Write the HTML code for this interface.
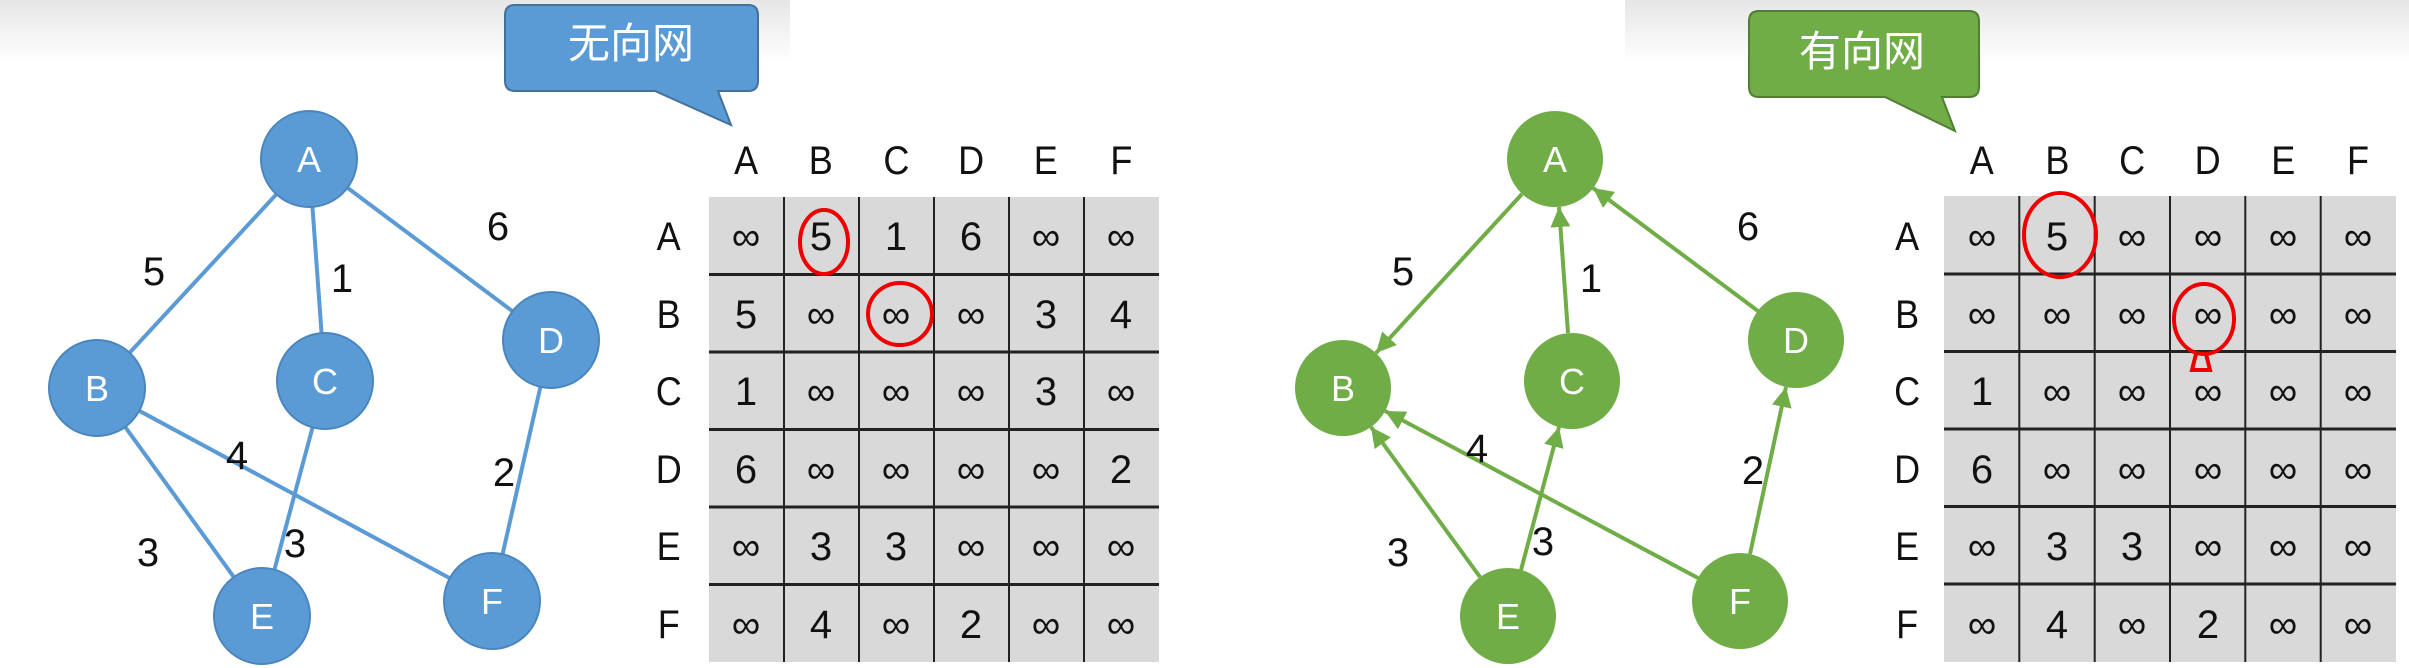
<!DOCTYPE html>
<html><head><meta charset="utf-8"><style>
html,body{margin:0;padding:0;background:#fff;}
svg{display:block;}
text{font-family:"Liberation Sans","Noto Sans CJK SC",sans-serif;}
</style></head><body>
<svg width="2409" height="668" viewBox="0 0 2409 668" xmlns="http://www.w3.org/2000/svg">
<defs>
<linearGradient id="tg" x1="0" y1="0" x2="0" y2="1"><stop offset="0" stop-color="#e6e6e6"/><stop offset="1" stop-color="#ffffff"/></linearGradient>
<marker id="ar" viewBox="0 0 10 10" refX="10" refY="5" markerWidth="5" markerHeight="5" orient="auto"><path d="M0,0 L10,5 L0,10 z" fill="#70ad47"/></marker>
</defs>
<rect x="0" y="0" width="790" height="62" fill="url(#tg)"/>
<rect x="1625" y="0" width="784" height="62" fill="url(#tg)"/>

<path d="M515,5 H748 Q758,5 758,15 V81 Q758,91 748,91 H718 L731,125 L655,91 H515 Q505,91 505,81 V15 Q505,5 515,5 Z" fill="#5b9bd5" stroke="#41719c" stroke-width="2"/>
<text x="631" y="58" font-size="42" fill="#fff" text-anchor="middle">无向网</text>

<g stroke="#5b9bd5" stroke-width="4">
<line x1="309" y1="159" x2="97" y2="388"/>
<line x1="309" y1="159" x2="325" y2="381"/>
<line x1="309" y1="159" x2="551" y2="340"/>
<line x1="97" y1="388" x2="262" y2="616"/>
<line x1="97" y1="388" x2="492" y2="601"/>
<line x1="325" y1="381" x2="262" y2="616"/>
<line x1="551" y1="340" x2="492" y2="601"/>
</g>
<g fill="#5b9bd5" stroke="#4a86bd" stroke-width="2">
<circle cx="309" cy="159" r="48"/><circle cx="97" cy="388" r="48"/><circle cx="325" cy="381" r="48"/>
<circle cx="551" cy="340" r="48"/><circle cx="262" cy="616" r="48"/><circle cx="492" cy="601" r="48"/>
</g>
<g fill="#fff" font-size="36" text-anchor="middle">
<text x="309" y="172">A</text><text x="97" y="401">B</text><text x="325" y="394">C</text>
<text x="551" y="353">D</text><text x="262" y="629">E</text><text x="492" y="614">F</text>
</g>
<g fill="#111" font-size="40" text-anchor="middle">
<text x="154" y="285">5</text><text x="342" y="292">1</text><text x="498" y="240">6</text>
<text x="237" y="469">4</text><text x="504" y="486">2</text><text x="148" y="566">3</text><text x="295" y="557">3</text>
</g>

<rect x="709" y="197" width="450" height="465" fill="#d9d9d9"/>
<g stroke="#222" stroke-width="2">
<line x1="784" y1="197" x2="784" y2="662"/><line x1="859" y1="197" x2="859" y2="662"/><line x1="934" y1="197" x2="934" y2="662"/>
<line x1="1009" y1="197" x2="1009" y2="662"/><line x1="1084" y1="197" x2="1084" y2="662"/>
</g>
<g stroke="#222" stroke-width="3">
<line x1="709" y1="274.5" x2="1159" y2="274.5"/><line x1="709" y1="352" x2="1159" y2="352"/><line x1="709" y1="429.5" x2="1159" y2="429.5"/>
<line x1="709" y1="507" x2="1159" y2="507"/><line x1="709" y1="584.5" x2="1159" y2="584.5"/>
</g>
<g fill="#111" font-size="40" text-anchor="middle">
<g transform="matrix(0.9,0,0,1,0,0)">
<text x="829" y="174">A</text><text x="912" y="174">B</text><text x="996" y="174">C</text><text x="1079" y="174">D</text><text x="1162" y="174">E</text><text x="1246" y="174">F</text>
<text x="743" y="250">A</text><text x="743" y="328">B</text><text x="743" y="405">C</text><text x="743" y="483">D</text><text x="743" y="560">E</text><text x="743" y="638">F</text>
</g>
</g>
<g fill="#111" font-size="40" text-anchor="middle">
<text x="746" y="250">∞</text><text x="821" y="250">5</text><text x="896" y="250">1</text><text x="971" y="250">6</text><text x="1046" y="250">∞</text><text x="1121" y="250">∞</text>
<text x="746" y="328">5</text><text x="821" y="328">∞</text><text x="896" y="328">∞</text><text x="971" y="328">∞</text><text x="1046" y="328">3</text><text x="1121" y="328">4</text>
<text x="746" y="405">1</text><text x="821" y="405">∞</text><text x="896" y="405">∞</text><text x="971" y="405">∞</text><text x="1046" y="405">3</text><text x="1121" y="405">∞</text>
<text x="746" y="483">6</text><text x="821" y="483">∞</text><text x="896" y="483">∞</text><text x="971" y="483">∞</text><text x="1046" y="483">∞</text><text x="1121" y="483">2</text>
<text x="746" y="560">∞</text><text x="821" y="560">3</text><text x="896" y="560">3</text><text x="971" y="560">∞</text><text x="1046" y="560">∞</text><text x="1121" y="560">∞</text>
<text x="746" y="638">∞</text><text x="821" y="638">4</text><text x="896" y="638">∞</text><text x="971" y="638">2</text><text x="1046" y="638">∞</text><text x="1121" y="638">∞</text>
</g>
<g fill="none" stroke="#e00" stroke-width="4">
<ellipse cx="824" cy="242" rx="24" ry="32"/>
<ellipse cx="900" cy="314" rx="32" ry="31"/>
</g>

<path d="M1759,11 H1969 Q1979,11 1979,21 V87 Q1979,97 1969,97 H1942 L1955,131 L1885,97 H1759 Q1749,97 1749,87 V21 Q1749,11 1759,11 Z" fill="#70ad47" stroke="#507e32" stroke-width="2"/>
<text x="1862" y="66" font-size="42" fill="#fff" text-anchor="middle">有向网</text>

<g stroke="#70ad47" stroke-width="4" marker-end="url(#ar)">
<line x1="1522" y1="194" x2="1376" y2="353"/>
<line x1="1568" y1="333" x2="1559" y2="207"/>
<line x1="1758" y1="311" x2="1593" y2="188"/>
<line x1="1480" y1="577" x2="1371" y2="427"/>
<line x1="1521" y1="570" x2="1559" y2="427"/>
<line x1="1698" y1="578" x2="1385" y2="411"/>
<line x1="1750" y1="554" x2="1786" y2="387"/>
</g>
<g fill="#70ad47">
<circle cx="1555" cy="159" r="48"/><circle cx="1343" cy="388" r="48"/><circle cx="1572" cy="381" r="48"/>
<circle cx="1796" cy="340" r="48"/><circle cx="1508" cy="616" r="48"/><circle cx="1740" cy="601" r="48"/>
</g>
<g fill="#fff" font-size="36" text-anchor="middle">
<text x="1555" y="172">A</text><text x="1343" y="401">B</text><text x="1572" y="394">C</text>
<text x="1796" y="353">D</text><text x="1508" y="629">E</text><text x="1740" y="614">F</text>
</g>
<g fill="#111" font-size="40" text-anchor="middle">
<text x="1403" y="285">5</text><text x="1591" y="292">1</text><text x="1748" y="240">6</text>
<text x="1477" y="462">4</text><text x="1753" y="484">2</text><text x="1398" y="566">3</text><text x="1543" y="555">3</text>
</g>

<rect x="1944" y="196" width="452" height="466" fill="#d9d9d9"/>
<g stroke="#222" stroke-width="2">
<line x1="2019.3" y1="196" x2="2019.3" y2="662"/><line x1="2094.7" y1="196" x2="2094.7" y2="662"/><line x1="2170" y1="196" x2="2170" y2="662"/>
<line x1="2245.3" y1="196" x2="2245.3" y2="662"/><line x1="2320.7" y1="196" x2="2320.7" y2="662"/>
</g>
<g stroke="#222" stroke-width="3">
<line x1="1944" y1="274" x2="2396" y2="274"/><line x1="1944" y1="351.5" x2="2396" y2="351.5"/><line x1="1944" y1="429" x2="2396" y2="429"/>
<line x1="1944" y1="506.5" x2="2396" y2="506.5"/><line x1="1944" y1="584" x2="2396" y2="584"/>
</g>
<g fill="#111" font-size="40" text-anchor="middle">
<g transform="matrix(0.9,0,0,1,207,0)">
<text x="1972" y="174">A</text><text x="2056" y="174">B</text><text x="2139" y="174">C</text><text x="2223" y="174">D</text><text x="2307" y="174">E</text><text x="2390" y="174">F</text>
<text x="1889" y="250">A</text><text x="1889" y="328">B</text><text x="1889" y="405">C</text><text x="1889" y="483">D</text><text x="1889" y="560">E</text><text x="1889" y="638">F</text>
</g>
</g>
<g fill="#111" font-size="40" text-anchor="middle">
<text x="1982" y="250">∞</text><text x="2057" y="250">5</text><text x="2132" y="250">∞</text><text x="2208" y="250">∞</text><text x="2283" y="250">∞</text><text x="2358" y="250">∞</text>
<text x="1982" y="328">∞</text><text x="2057" y="328">∞</text><text x="2132" y="328">∞</text><text x="2208" y="328">∞</text><text x="2283" y="328">∞</text><text x="2358" y="328">∞</text>
<text x="1982" y="405">1</text><text x="2057" y="405">∞</text><text x="2132" y="405">∞</text><text x="2208" y="405">∞</text><text x="2283" y="405">∞</text><text x="2358" y="405">∞</text>
<text x="1982" y="483">6</text><text x="2057" y="483">∞</text><text x="2132" y="483">∞</text><text x="2208" y="483">∞</text><text x="2283" y="483">∞</text><text x="2358" y="483">∞</text>
<text x="1982" y="560">∞</text><text x="2057" y="560">3</text><text x="2132" y="560">3</text><text x="2208" y="560">∞</text><text x="2283" y="560">∞</text><text x="2358" y="560">∞</text>
<text x="1982" y="638">∞</text><text x="2057" y="638">4</text><text x="2132" y="638">∞</text><text x="2208" y="638">2</text><text x="2283" y="638">∞</text><text x="2358" y="638">∞</text>
</g>
<g fill="none" stroke="#e00" stroke-width="4">
<ellipse cx="2060" cy="235" rx="36" ry="42"/>
<ellipse cx="2204" cy="319" rx="30" ry="35"/>
<path d="M2196,354 L2192,370 H2210 L2206,354"/>
</g>
</svg>
</body></html>
